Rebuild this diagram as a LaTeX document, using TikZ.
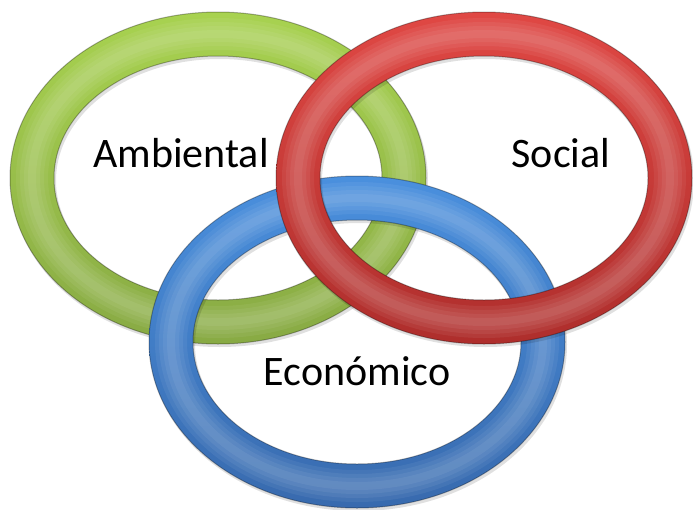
\documentclass[tikz,border=0pt]{standalone}
\usepackage{fontspec}
\setmainfont{Carlito}
\definecolor{gTop}{RGB}{168,210,80}
\definecolor{gBot}{RGB}{136,170,68}
\definecolor{bTop}{RGB}{74,144,222}
\definecolor{bBot}{RGB}{56,106,174}
\definecolor{rTop}{RGB}{224,72,68}
\definecolor{rBot}{RGB}{174,46,44}

\begin{document}
\begin{tikzpicture}[x=1pt,y=-1pt,
   ringtext/.style={font=\fontsize{42}{42}\selectfont, anchor=base, inner sep=0pt},
   rim/.style={draw=black, draw opacity=0.3, line width=1pt},
   glow/.style={draw=white, draw opacity=0.06, line width=#1},
   ringshadow/.style={draw=black, draw opacity=0.12, line width=45pt}]
   \useasboundingbox (0,0) rectangle (693,509);

   \coordinate (gC) at (218,178);
   \coordinate (bC) at (357,342);
   \coordinate (rC) at (484,178);

   % green first, then blue, red on top
   \foreach \c/\t/\b in {gC/gTop/gBot, bC/bTop/bBot, rC/rTop/rBot} {
      \draw[ringshadow] ([shift={(1.5,2.5)}]\c) ellipse [x radius=186, y radius=144];
      \shade[even odd rule, top color=\t, bottom color=\b]
         (\c) ellipse [x radius=208, y radius=166] (\c) ellipse [x radius=164, y radius=122];
      \foreach \w in {32,24,16,8}
         \draw[glow=\w pt] (\c) ellipse [x radius=186, y radius=144];
      \draw[rim] (\c) ellipse [x radius=208, y radius=166] (\c) ellipse [x radius=164, y radius=122];
   }

   \node[ringtext] (amb) at (181,167) {Ambiental};
   \node[ringtext] (soc) at (561,167) {Social};
   \node[ringtext] (eco) at (357,385) {Económico};
\end{tikzpicture}
\end{document}
